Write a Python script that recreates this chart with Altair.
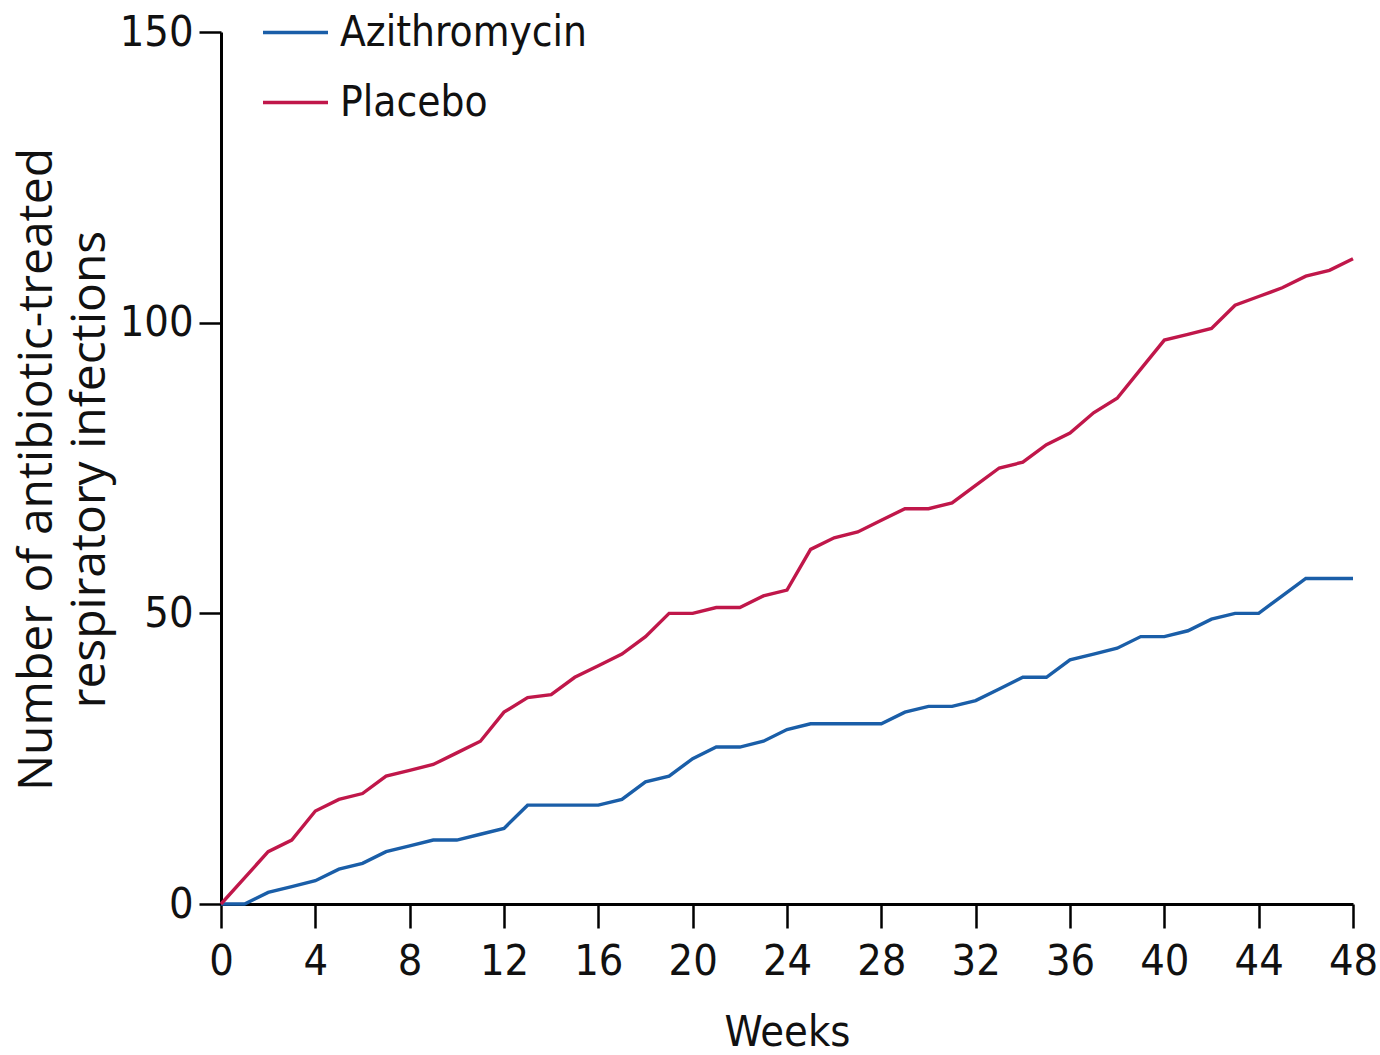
import altair as alt
import pandas as pd

weeks = list(range(0, 49))
azithromycin = [0, 0, 2, 3, 4, 6, 7, 9, 10, 11, 11, 12, 13, 17, 17, 17, 17, 18, 21, 22,
                25, 27, 27, 28, 30, 31, 31, 31, 31, 33, 34, 34, 35, 37, 39, 39, 42, 43, 44, 46,
                46, 47, 49, 50, 50, 53, 56, 56, 56]
placebo = [0, 4.5, 9, 11, 16, 18, 19, 22, 23, 24, 26, 28, 33, 35.5, 36, 39, 41, 43, 46, 50,
           50, 51, 51, 53, 54, 61, 63, 64, 66, 68, 68, 69, 72, 75, 76, 79, 81, 84.5, 87, 92,
           97, 98, 99, 103, 104.5, 106, 108, 109, 111]
series = ["Azithromycin", "Placebo"]
colors = ["#1a5ea8", "#c0174a"]
x_ticks = list(range(0, 49, 4))
y_ticks = [0, 50, 100, 150]

rows = []
for w, a, p in zip(weeks, azithromycin, placebo):
    rows.append({"week": w, "value": a, "group": series[0]})
    rows.append({"week": w, "value": p, "group": series[1]})
df = pd.DataFrame(rows)

narrow = "DejaVu Sans Condensed, sans-serif"

chart = alt.Chart(df).mark_line(strokeWidth=3.4, clip=False).encode(
    x=alt.X("week:Q",
            scale=alt.Scale(domain=[0, 48], nice=False, zero=True),
            axis=alt.Axis(values=x_ticks, title="Weeks", grid=False,
                          domainColor="black", domainWidth=3,
                          tickColor="black", tickWidth=2.5, tickSize=24,
                          labelFont=narrow, labelFontSize=43, labelColor="#111",
                          labelPadding=12, labelFlush=False,
                          titleFont=narrow, titleFontSize=43, titleFontWeight="normal",
                          titleColor="#111", titlePadding=28)),
    y=alt.Y("value:Q",
            scale=alt.Scale(domain=[0, 150], nice=False),
            axis=alt.Axis(values=y_ticks, title=["Number of antibiotic-treated", "respiratory infections"],
                          grid=False,
                          domainColor="black", domainWidth=3,
                          tickColor="black", tickWidth=2.5, tickSize=22,
                          labelFont=narrow, labelFontSize=43, labelColor="#111",
                          labelPadding=6, labelFlush=False,
                          titleFont="Open Sans", titleFontSize=48, titleFontWeight="normal",
                          titleColor="#111", titleLineHeight=53,
                          titleAngle=-90, titleAlign="center", titleBaseline="top",
                          titleX=-208, titleY=437)),
    color=alt.Color("group:N",
                    scale=alt.Scale(domain=series, range=colors),
                    legend=alt.Legend(title=None, orient="none", legendX=40, legendY=-34,
                                      symbolType="stroke", symbolSize=4225, symbolStrokeWidth=3.4,
                                      labelFont=narrow, labelFontSize=42, labelColor="#111",
                                      labelOffset=10, rowPadding=14, labelLimit=400)),
).properties(
    width=1132, height=872,
    autosize=alt.AutoSizeParams(type="none"),
    padding={"left": 221, "top": 32, "right": 27, "bottom": 151},
    background="white",
).configure_view(strokeWidth=0, stroke=None)

chart.save("out.html", embed_options={"renderer": "svg", "actions": False})
